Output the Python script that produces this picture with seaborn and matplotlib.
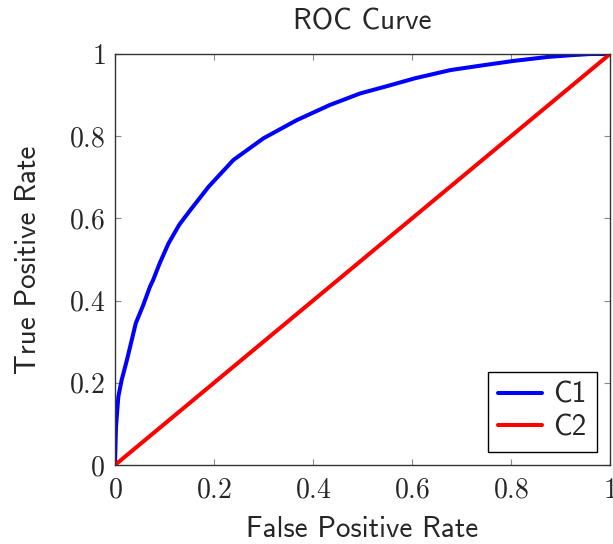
"""roc

ROC curve of two classifiers, pgfplots look.
"""

import matplotlib
matplotlib.use('Agg')
import matplotlib.pyplot as plt
import pandas as pd
import seaborn as sns

# curve C1
fpr_c1 = [0.0, 0.002, 0.0067, 0.0135, 0.024, 0.037, 0.042, 0.057, 0.0707,
          0.077, 0.09, 0.108, 0.13, 0.152, 0.189, 0.239, 0.30, 0.367, 0.434,
          0.495, 0.55, 0.606, 0.678, 0.74, 0.804, 0.875, 0.92, 0.96, 1.0]
tpr_c1 = [0.0, 0.093, 0.166, 0.207, 0.255, 0.320, 0.345, 0.389, 0.434,
          0.450, 0.49, 0.539, 0.585, 0.620, 0.677, 0.742, 0.795, 0.839, 0.876,
          0.904, 0.922, 0.941, 0.961, 0.972, 0.983, 0.993, 0.997, 1.0, 1.0]
# curve C2, chance line
fpr_c2 = [0.0, 1.0]
tpr_c2 = [0.0, 1.0]

curve_names = ['C1', 'C2']
tick_values = [0, 0.2, 0.4, 0.6, 0.8, 1]
tick_labels = ['$0$', '$0.2$', '$0.4$', '$0.6$', '$0.8$', '$1$']

df = pd.concat([
    pd.DataFrame({'fpr': fpr_c1, 'tpr': tpr_c1, 'curve': curve_names[0]}),
    pd.DataFrame({'fpr': fpr_c2, 'tpr': tpr_c2, 'curve': curve_names[1]}),
], ignore_index=True)

sns.set_theme(style='white')
plt.rcParams['mathtext.fontset'] = 'cm'
plt.rcParams['font.family'] = ['cmss10', 'DejaVu Sans']
plt.rcParams['axes.unicode_minus'] = False

fig = plt.figure(figsize=(6.13, 5.44), dpi=100)
ax = fig.add_axes([0.1876, 0.1452, 0.8075, 0.7555])

sns.lineplot(data=df, x='fpr', y='tpr', hue='curve',
             palette={'C1': 'blue', 'C2': 'red'}, linewidth=2.9,
             estimator=None, sort=False, ax=ax)

ax.set_xlim(0, 1)
ax.set_ylim(0, 1)
ax.set_xticks(tick_values)
ax.set_xticklabels(tick_labels)
ax.set_yticks(tick_values)
ax.set_yticklabels(tick_labels)
ax.tick_params(direction='in', length=4.5, width=0.8, color='#888888',
               labelsize=20, top=True, right=True, bottom=True, left=True)
ax.tick_params(axis='x', pad=9)
ax.tick_params(axis='y', pad=7)
for side in ax.spines.values():
    side.set_color('#333333')
    side.set_linewidth(1.0)

ax.set_title('ROC Curve', fontsize=21, pad=18)
ax.set_xlabel('False Positive Rate', fontsize=21, labelpad=10)
ax.set_ylabel('True Positive Rate', fontsize=21, labelpad=19)

leg = ax.legend(loc='lower right', fontsize=21, fancybox=False,
                edgecolor='black', framealpha=1, handlelength=1.5,
                borderaxespad=0.45, borderpad=0.35, labelspacing=0.2,
                handletextpad=0.4)
leg.get_frame().set_linewidth(1.0)

fig.savefig('out.png', dpi=100)
